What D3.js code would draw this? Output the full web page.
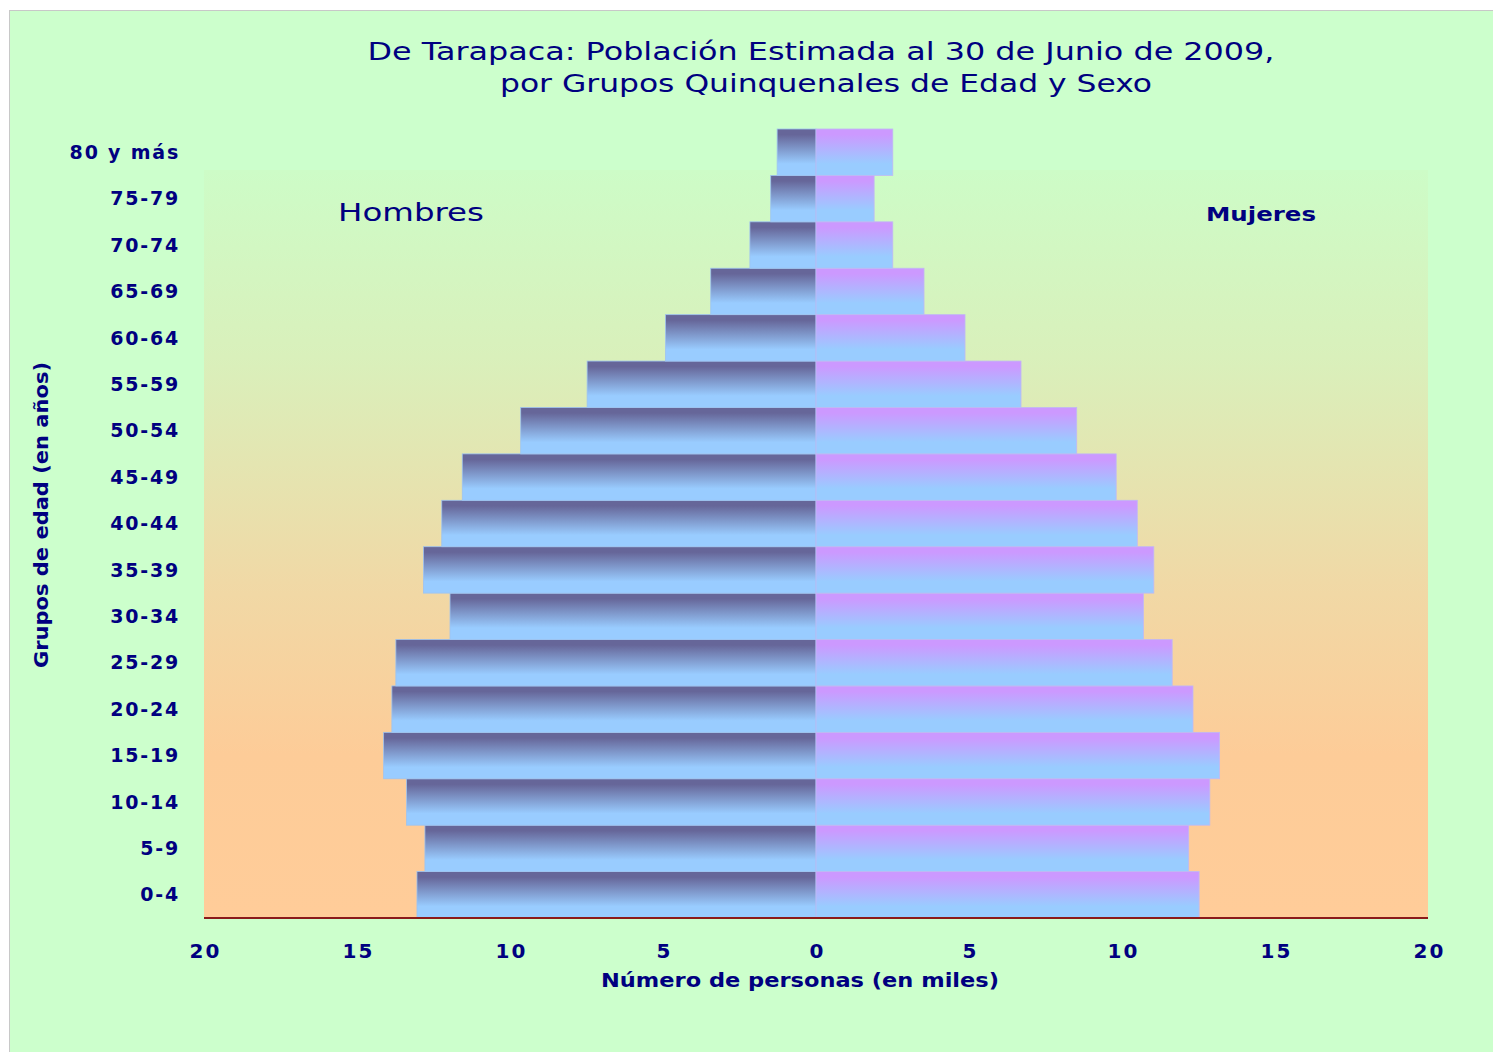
<!DOCTYPE html>
<html>
<head>
<meta charset="utf-8">
<script src="https://cdn.jsdelivr.net/npm/d3@7"></script>
<style>
	body { margin: 0; background: #ffffff; }
	svg { display: block; }
	.lbl { font-family: "DejaVu Sans", Verdana, sans-serif; font-weight: bold; fill: #000080; }
</style>
</head>
<body>
<svg id="pyramid"></svg>
<script>
var ageGroups = ['0-4', '5-9', '10-14', '15-19', '20-24', '25-29', '30-34', '35-39', '40-44',
	'45-49', '50-54', '55-59', '60-64', '65-69', '70-74', '75-79', '80 y más'];
var hombres = [13.04, 12.78, 13.38, 14.13, 13.86, 13.73, 11.96, 12.83, 12.23,
	11.56, 9.65, 7.48, 4.92, 3.44, 2.16, 1.48, 1.27];
var mujeres = [12.52, 12.18, 12.87, 13.19, 12.32, 11.64, 10.70, 11.04, 10.50,
	9.81, 8.52, 6.70, 4.87, 3.53, 2.51, 1.90, 2.51];
var xTicks = [-20, -15, -10, -5, 0, 5, 10, 15, 20];

drawPyramid();

function drawPyramid() {
	var width = 1493, height = 1052;
	var left = 204, right = 1428, bottom = 918, top = 129, plotTop = 170;

	var svg = d3.select("#pyramid").attr("width", width).attr("height", height);
	var defs = svg.append("defs");

	// gradients
	var bg = defs.append("linearGradient").attr("id", "plotBg").attr("x1", 0).attr("y1", 0).attr("x2", 0).attr("y2", 1);
	[[0, "#cdfcc7"], [0.25, "#d9f0bb"], [0.55, "#f0d9a6"], [0.78, "#fdcc98"], [1, "#ffcc99"]].forEach(function(s) {
		bg.append("stop").attr("offset", s[0]).attr("stop-color", s[1]);
	});
	var gm = defs.append("linearGradient").attr("id", "gradM").attr("x1", 0).attr("y1", 0).attr("x2", 0).attr("y2", 1);
	[[0, "#666699"], [0.12, "#666699"], [0.75, "#99ccff"], [1, "#99ccff"]].forEach(function(s) {
		gm.append("stop").attr("offset", s[0]).attr("stop-color", s[1]);
	});
	var gf = defs.append("linearGradient").attr("id", "gradF").attr("x1", 0).attr("y1", 0).attr("x2", 0).attr("y2", 1);
	[[0, "#cc99ff"], [0.12, "#cc99ff"], [0.75, "#99ccff"], [1, "#99ccff"]].forEach(function(s) {
		gf.append("stop").attr("offset", s[0]).attr("stop-color", s[1]);
	});

	// frame
	svg.append("rect").attr("x", 9.5).attr("y", 10.5).attr("width", 1490).attr("height", 1050)
		.attr("fill", "#ccffcc").attr("stroke", "#c8c8c8");

	var x = d3.scaleLinear().domain([-20, 20]).range([left, right]);
	var y = d3.scaleBand().domain(ageGroups).range([bottom, top]).paddingInner(0);

	svg.append("rect").attr("x", left).attr("y", plotTop).attr("width", right - left).attr("height", bottom - plotTop)
		.attr("fill", "url(#plotBg)");

	// bars
	svg.selectAll("rect.hombre").data(hombres).enter().append("rect").attr("class", "hombre")
		.attr("x", function(d) { return x(-d); })
		.attr("y", function(d, i) { return y(ageGroups[i]); })
		.attr("width", function(d) { return x(0) - x(-d); })
		.attr("height", y.bandwidth())
		.attr("fill", "url(#gradM)").attr("stroke", "#9ec3f0").attr("stroke-width", 0.8);
	svg.selectAll("rect.mujer").data(mujeres).enter().append("rect").attr("class", "mujer")
		.attr("x", x(0))
		.attr("y", function(d, i) { return y(ageGroups[i]); })
		.attr("width", function(d) { return x(d) - x(0); })
		.attr("height", y.bandwidth())
		.attr("fill", "url(#gradF)").attr("stroke", "#c0b8f4").attr("stroke-width", 0.8);

	// baseline
	svg.append("line").attr("x1", left).attr("x2", right).attr("y1", bottom).attr("y2", bottom)
		.attr("stroke", "#8b1a1a").attr("stroke-width", 2);

	// x axis
	var xAxis = d3.axisBottom(x).tickValues(xTicks).tickSize(0).tickPadding(0)
		.tickFormat(function(d) { return Math.abs(d); });
	var gx = svg.append("g").attr("transform", "translate(0," + (bottom + 26) + ")").call(xAxis);
	gx.select(".domain").remove();
	gx.selectAll("text").attr("class", "lbl").attr("font-size", 20).attr("dy", "0.71em")
		.attr("dx", 1).style("letter-spacing", "2px");

	// y axis
	var yAxis = d3.axisLeft(y).tickSize(0).tickPadding(0);
	var gy = svg.append("g").attr("transform", "translate(180,0)").call(yAxis);
	gy.select(".domain").remove();
	gy.selectAll("text").attr("class", "lbl").attr("font-size", 19).attr("dy", "0.35em")
		.style("letter-spacing", "1.8px");

	// titles
	svg.append("text").attr("class", "lbl").attr("x", 821).attr("y", 60).attr("text-anchor", "middle")
		.attr("font-size", 25).style("font-weight", "normal")
		.attr("textLength", 907).attr("lengthAdjust", "spacingAndGlyphs")
		.text("De Tarapaca: Población Estimada al 30 de Junio de 2009,");
	svg.append("text").attr("class", "lbl").attr("x", 826).attr("y", 92).attr("text-anchor", "middle")
		.attr("font-size", 25).style("font-weight", "normal")
		.attr("textLength", 652).attr("lengthAdjust", "spacingAndGlyphs")
		.text("por Grupos Quinquenales de Edad y Sexo");

	svg.append("text").attr("class", "lbl").attr("x", 800).attr("y", 987).attr("text-anchor", "middle")
		.attr("font-size", 19).attr("textLength", 398).attr("lengthAdjust", "spacingAndGlyphs")
		.text("Número de personas (en miles)");

	svg.append("text").attr("class", "lbl").attr("transform", "translate(48,515) rotate(-90)")
		.attr("text-anchor", "middle").attr("font-size", 19)
		.attr("textLength", 306).attr("lengthAdjust", "spacingAndGlyphs")
		.text("Grupos de edad (en años)");

	svg.append("text").attr("class", "lbl").attr("x", 338).attr("y", 221)
		.attr("font-size", 25).style("font-weight", "normal")
		.attr("textLength", 146).attr("lengthAdjust", "spacingAndGlyphs")
		.text("Hombres");
	svg.append("text").attr("class", "lbl").attr("x", 1206).attr("y", 221)
		.attr("font-size", 20).attr("textLength", 110).attr("lengthAdjust", "spacingAndGlyphs")
		.text("Mujeres");
}
</script>
</body>
</html>
